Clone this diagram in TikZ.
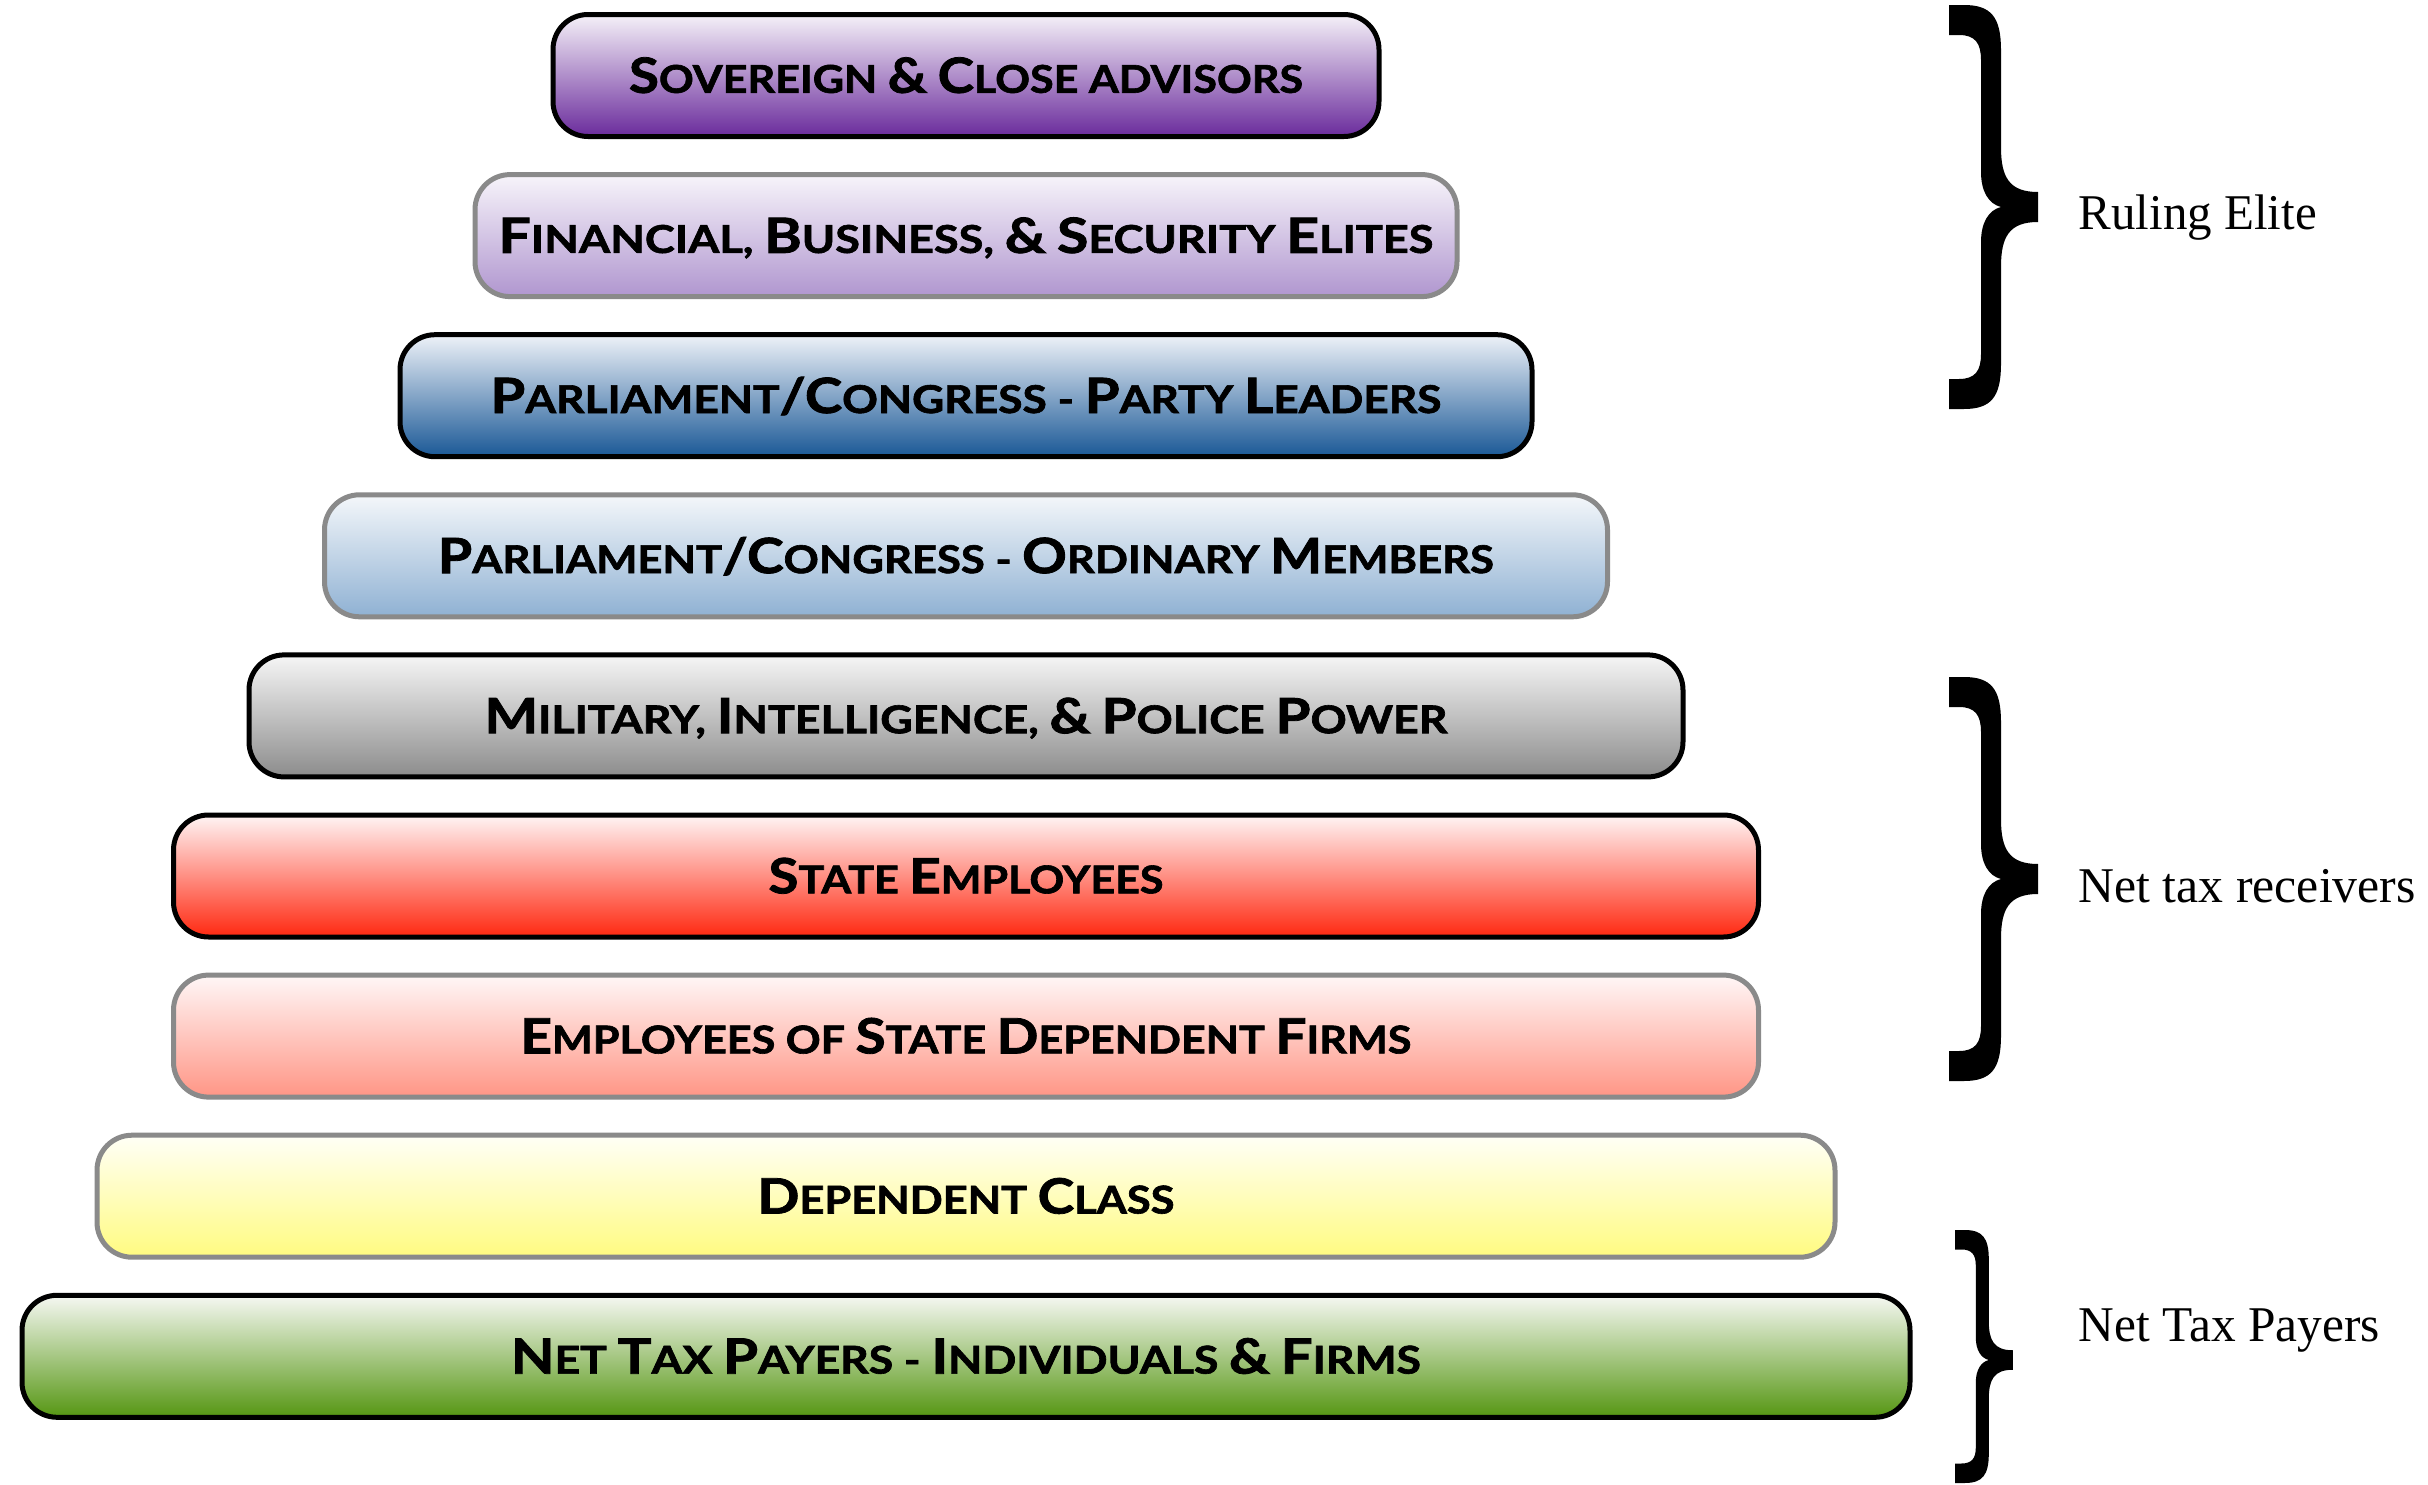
\documentclass[tikz,border=0pt]{standalone}
\usepackage{fontspec}
\setmainfont{Liberation Serif}
\setsansfont{Lato}[BoldFeatures={FakeBold=1.6}]
\definecolor{bordergray}{HTML}{8A8A8A}
\definecolor{t1}{HTML}{F5F1F8}\definecolor{b1}{HTML}{6A2B9C}
\definecolor{t2}{HTML}{F7F4FA}\definecolor{b2}{HTML}{B096CF}
\definecolor{t3}{HTML}{EEF2F8}\definecolor{b3}{HTML}{1A5896}
\definecolor{t4}{HTML}{F4F7FA}\definecolor{b4}{HTML}{8FB1D3}
\definecolor{t5}{HTML}{F6F6F6}\definecolor{b5}{HTML}{8C8C8C}
\definecolor{t6}{HTML}{FFF5F5}\definecolor{b6}{HTML}{FF2810}
\definecolor{t7}{HTML}{FFF7F7}\definecolor{b7}{HTML}{FF9585}
\definecolor{t8}{HTML}{FFFFF7}\definecolor{b8}{HTML}{FFFB80}
\definecolor{t9}{HTML}{F6F8F3}\definecolor{b9}{HTML}{559612}
\newcommand\C[1]{{\fontsize{14.6pt}{14.6pt}\selectfont #1}}
\newcommand\bigbrace[5]{%
\fill ({#1},{#2}) -- ({#1+15*#5},{#2}) .. controls ({#1+42*#5},{#2}) and ({#1+52*#5},{#2+12*#5}) .. ({#1+52*#5},{#2+45*#5})
 -- ({#1+52*#5},{#3-60*#5}) .. controls ({#1+52*#5},{#3-30*#5}) and ({#1+60*#5},{#3-15*#5}) .. ({#1+89*#5},{#3-15*#5})
 -- ({#1+89*#5},{#3+15*#5}) .. controls ({#1+60*#5},{#3+15*#5}) and ({#1+52*#5},{#3+30*#5}) .. ({#1+52*#5},{#3+60*#5})
 -- ({#1+52*#5},{#4-45*#5}) .. controls ({#1+52*#5},{#4-12*#5}) and ({#1+42*#5},{#4}) .. ({#1+15*#5},{#4})
 -- ({#1},{#4}) -- ({#1},{#4-30*#5}) -- ({#1+10*#5},{#4-30*#5}) .. controls ({#1+26*#5},{#4-30*#5}) and ({#1+32*#5},{#4-38*#5}) .. ({#1+32*#5},{#4-55*#5})
 -- ({#1+32*#5},{#3+35*#5}) .. controls ({#1+32*#5},{#3+15*#5}) and ({#1+40*#5},{#3+3*#5}) .. ({#1+52*#5},{#3})
 .. controls ({#1+40*#5},{#3-3*#5}) and ({#1+32*#5},{#3-15*#5}) .. ({#1+32*#5},{#3-35*#5})
 -- ({#1+32*#5},{#2+55*#5}) .. controls ({#1+32*#5},{#2+38*#5}) and ({#1+26*#5},{#2+30*#5}) .. ({#1+10*#5},{#2+30*#5})
 -- ({#1},{#2+30*#5}) -- cycle;}
\begin{document}
\begin{tikzpicture}[x=0.3pt,y=-0.3pt,
  tier/.style={rounded corners=10.5pt, line width=1.5pt, minimum height=36.6pt, minimum width=#1,
     inner sep=0pt, text height=10.4pt, text depth=0pt,
     font=\sffamily\bfseries\fontsize{11.5pt}{11.5pt}\selectfont},
  blk/.style={draw=black},
  gry/.style={draw=bordergray},
  lbl/.style={anchor=base west, inner sep=0pt, font=\rmfamily\fontsize{15pt}{15pt}\selectfont}]
\useasboundingbox (0,0) rectangle (2428,1485);
\fill[white] (0,0) rectangle (2428,1485);
\node[tier=247.8pt, blk, top color=t1, bottom color=b1] (sov) at (966,75.5)
  {\resizebox{202.2pt}{\height}{\C{S}OVEREIGN \C{\&} \C{C}LOSE ADVISORS}};
\node[tier=294.6pt, gry, top color=t2, bottom color=b2] (fin) at (966,235.6)
  {\resizebox{280.5pt}{\height}{\C{F}INANCIAL, \C{B}USINESS, \C{\&} \C{S}ECURITY \C{E}LITES}};
\node[tier=339.6pt, blk, top color=t3, bottom color=b3] (party) at (966,395.7)
  {\resizebox{285.3pt}{\height}{\C{P}ARLIAMENT\C{/}\C{C}ONGRESS - \C{P}ARTY \C{L}EADERS}};
\node[tier=384.9pt, gry, top color=t4, bottom color=b4] (ord) at (966,555.8)
  {\resizebox{316.8pt}{\height}{\C{P}ARLIAMENT\C{/}\C{C}ONGRESS - \C{O}RDINARY \C{M}EMBERS}};
\node[tier=430.2pt, blk, top color=t5, bottom color=b5] (mil) at (966,715.9)
  {\resizebox{288.9pt}{\height}{\C{M}ILITARY, \C{I}NTELLIGENCE, \C{\&} \C{P}OLICE \C{P}OWER}};
\node[tier=475.5pt, blk, top color=t6, bottom color=b6] (state) at (966,876)
  {\resizebox{118.5pt}{\height}{\C{S}TATE \C{E}MPLOYEES}};
\node[tier=475.5pt, gry, top color=t7, bottom color=b7] (firms) at (966,1036.1)
  {\resizebox{267.3pt}{\height}{\C{E}MPLOYEES OF \C{S}TATE \C{D}EPENDENT \C{F}IRMS}};
\node[tier=521.4pt, gry, top color=t8, bottom color=b8] (dep) at (966,1196.2)
  {\resizebox{125.1pt}{\height}{\C{D}EPENDENT \C{C}LASS}};
\node[tier=566.4pt, blk, top color=t9, bottom color=b9] (tax) at (966,1356.3)
  {\resizebox{273pt}{\height}{\C{N}ET \C{T}AX \C{P}AYERS - \C{I}NDIVIDUALS \C{\&} \C{F}IRMS}};
\bigbrace{1949}{5}{207}{409}{1}
\bigbrace{1949}{677}{879}{1081}{1}
\bigbrace{1955}{1230}{1360}{1483}{0.65}
\node[lbl] (elite) at (2078,229) {\resizebox{71.4pt}{\height}{Ruling Elite}};
\node[lbl] (recv) at (2078,902) {\resizebox{101.1pt}{\height}{Net tax receivers}};
\node[lbl] (pay) at (2078,1341) {\resizebox{90.3pt}{\height}{Net Tax Payers}};
\end{tikzpicture}
\end{document}
